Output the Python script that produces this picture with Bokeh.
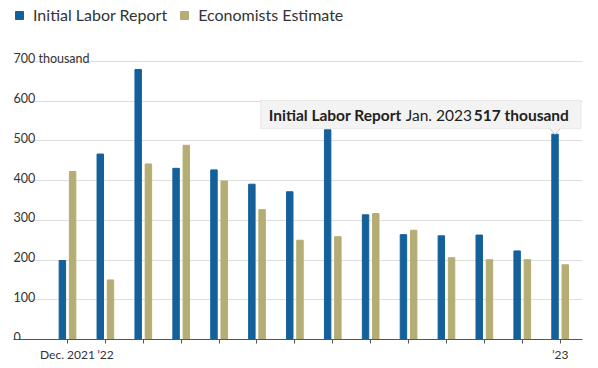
from bokeh.plotting import figure
from bokeh.models import (Range1d, FixedTicker, Label, BoxAnnotation, Legend, LegendItem,
                          ColumnDataSource, PolyAnnotation)
from bokeh.embed import file_html
from bokeh.resources import INLINE

months = ["Dec. 2021", "Jan. 2022", "Feb. 2022", "Mar. 2022", "Apr. 2022", "May 2022",
          "Jun. 2022", "Jul. 2022", "Aug. 2022", "Sep. 2022", "Oct. 2022", "Nov. 2022",
          "Dec. 2022", "Jan. 2023"]
initial = [199, 467, 680, 431, 427, 391, 372, 528, 314, 264, 261, 263, 223, 517]
estimate = [423, 150, 442, 489, 399, 327, 250, 259, 317, 275, 206, 201, 201, 188]
x_tick_idx = [0, 1, 13]
x_tick_labels = ["Dec. 2021", "\u201922", "\u201923"]
y_ticks = [0, 100, 200, 300, 400, 500, 600, 700]
y_tick_labels = ["0", "100", "200", "300", "400", "500", "600", "700 thousand"]
legend_labels = ["Initial Labor Report", "Economists Estimate"]
callout_parts = ["Initial Labor Report", "Jan. 2023", "517 thousand"]

FONT = "Lato"
BLUE = "#14609a"
OLIVE = "#b4ad74"
TXT = "#333333"

n = len(months)
idx = list(range(n))
off = 0.135
src = ColumnDataSource(dict(
    xb=[i - off for i in idx], xe=[i + off for i in idx],
    initial=initial, estimate=estimate))

p = figure(width=598, height=368, output_backend="svg", toolbar_location=None,
           x_range=Range1d(-1.425, n - 1 + 0.59), y_range=Range1d(0, 853.6),
           y_axis_location=None,
           min_border_left=13, min_border_right=16, min_border_top=0, min_border_bottom=29)
p.outline_line_color = None
p.background_fill_color = "white"
p.border_fill_color = "white"

p.xgrid.visible = False
p.ygrid.ticker = FixedTicker(ticks=y_ticks[1:])
p.ygrid.grid_line_color = "#dedede"
p.ygrid.grid_line_width = 1

r1 = p.vbar(x="xb", top="initial", width=0.17, source=src, color=BLUE)
r2 = p.vbar(x="xe", top="estimate", width=0.17, source=src, color=OLIVE)

ax = p.xaxis[0]
ax.ticker = FixedTicker(ticks=idx)
ax.major_label_overrides = {i: "" for i in idx}
ax.major_label_overrides.update({i: t for i, t in zip(x_tick_idx, x_tick_labels)})
ax.axis_line_color = "#555555"
ax.axis_line_width = 1.2
ax.major_tick_line_color = "#555555"
ax.major_tick_out = 4
ax.major_tick_in = 0
ax.minor_tick_line_color = None
ax.major_label_standoff = 3
ax.major_label_text_font = FONT
ax.major_label_text_font_size = "12px"
ax.major_label_text_color = TXT

for v, t in zip(y_ticks, y_tick_labels):
    p.add_layout(Label(x=0, x_units="screen", y=v, y_offset=3, text=t,
                       text_baseline="alphabetic", text_align="left",
                       text_font=FONT, text_font_size="12.5px", text_color=TXT))

legend = Legend(items=[LegendItem(label=legend_labels[0], renderers=[r1]),
                       LegendItem(label=legend_labels[1], renderers=[r2])],
                orientation="horizontal", location=(1, 315), padding=0, margin=0,
                spacing=12, glyph_width=10, glyph_height=10, label_standoff=9,
                label_height=18,
                label_text_font=FONT, label_text_font_size="16px", label_text_color=TXT,
                background_fill_alpha=0, border_line_color=None)
p.add_layout(legend, "center")

# callout for last month
last = n - 1
box_left, box_right = last - 7.9, last + 0.55
box_top, box_bottom = 602, 531
p.add_layout(BoxAnnotation(left=box_left, right=box_right, top=box_top, bottom=box_bottom,
                           fill_color="#f3f3f3", fill_alpha=1, line_color="#c4c4c4",
                           line_width=1, level="overlay"))
tx = last - off
p.add_layout(PolyAnnotation(xs=[tx - 0.14, tx + 0.14, tx], ys=[box_bottom + 2, box_bottom + 2, box_bottom - 14],
                            fill_color="#f3f3f3", fill_alpha=1, line_color=None, level="overlay"))
p.segment(x0=[tx - 0.14, tx + 0.14], y0=[box_bottom, box_bottom], x1=[tx, tx],
          y1=[box_bottom - 14, box_bottom - 14], line_color="#c4c4c4", line_width=1, level="overlay")
ymid = (box_top + box_bottom) / 2
for t, xo, fs in zip(callout_parts, [8, 145, 213], ["bold", "normal", "bold"]):
    p.add_layout(Label(x=box_left, y=ymid, x_offset=xo, text=t, text_baseline="middle",
                       text_font=FONT, text_font_size="15.5px", text_font_style=fs,
                       text_color="#222222", level="overlay"))

open("out.html", "w").write(file_html(p, INLINE))
